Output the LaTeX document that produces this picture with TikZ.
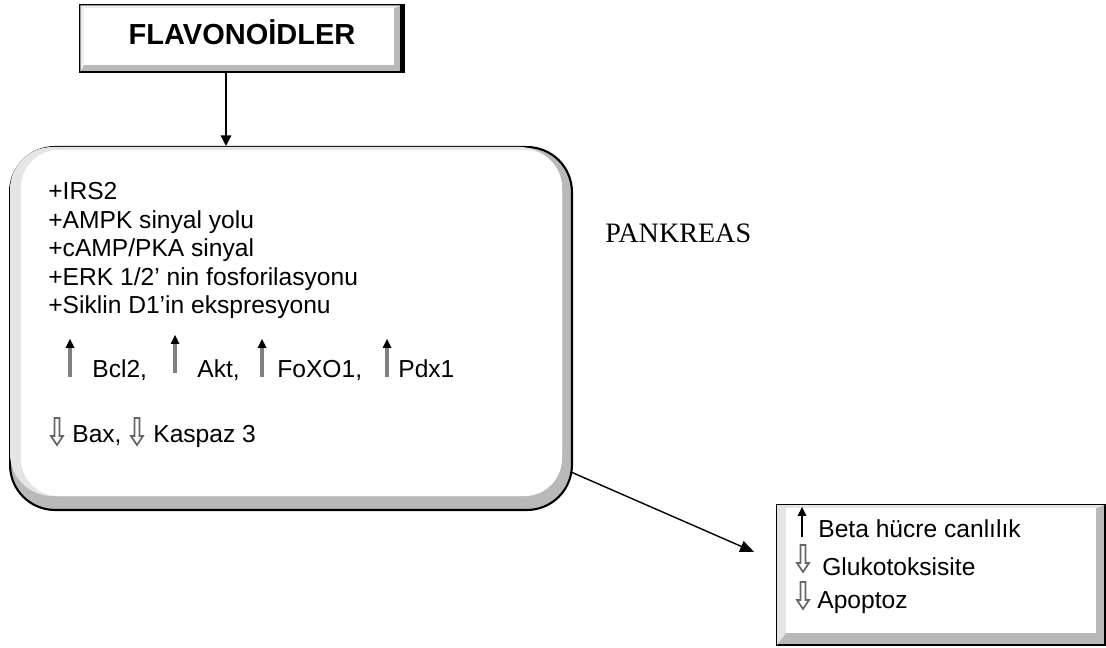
\documentclass[tikz,border=0pt]{standalone}
\usepackage{fontspec}
\setmainfont{Liberation Serif}
\setsansfont{Liberation Sans}
\usetikzlibrary{arrows.meta}
\usetikzlibrary{positioning}
\tikzset{txt/.style = {anchor=base west, inner sep=0pt,
                       font=\sffamily\fontsize{14}{16}\selectfont},
         conn/.style = {line width=0.8pt,
                        -{Triangle[length=6pt,width=6pt]}},
         grayshaft/.style = {draw=black!50, line width=1.8pt},
         blackshaft/.style = {draw=black, line width=0.8pt},
         pics/uparr/.style args = {#1/#2}{code = {
             \draw[#1] (0,0) -- (0,-#2+8);
             \fill (-4.5,-#2+9) -- (4.5,-#2+9) -- (0,-#2) -- cycle;}},
         pics/downarr/.style = {code = {
             \filldraw[draw=black!60, fill=white, line width=1pt]
               (-2.5,0) -- (2.5,0) -- (2.5,18) -- (6,18) -- (0,27)
               -- (-6,18) -- (-2.5,18) -- cycle;}}}

\begin{document}
\begin{tikzpicture}[x=0.02cm, y=-0.02cm]
    \useasboundingbox (0,0) rectangle (1106,648);

    % top box
    \node[draw, line width=0.8pt, fill=gray!55, inner sep=0pt,
          minimum width=6.44cm, minimum height=1.34cm] (flav) at (241,38.5) {};
    \fill[gray!15] ([shift={(1,1)}]flav.north west) -- ([shift={(-1,1)}]flav.north east)
        -- ([shift={(-9,4)}]flav.north east) -- ([shift={(5,4)}]flav.north west)
        -- ([shift={(5,-8)}]flav.south west) -- ([shift={(1,-1)}]flav.south west) -- cycle;
    \fill[white] ([shift={(5,4)}]flav.north west) rectangle ([shift={(-9,-8)}]flav.south east);
    \draw[line width=2.5pt] (flav.north east) -- (flav.south east);
    \node[anchor=base, inner sep=0pt, font=\sffamily\bfseries\fontsize{16.5}{18}\selectfont]
        (flavtxt) at (242,45) {FLAVONOİDLER};

    % pancreas box
    \node[draw, line width=1.2pt, rounded corners=0.9cm, fill=gray!55, inner sep=0pt,
          minimum width=11.24cm, minimum height=7.26cm] (pank) at (291,328.5) {};
    \fill[gray!20, rounded corners=0.85cm] ([shift={(1,1)}]pank.north west)
        rectangle ([shift={(-11,-15)}]pank.south east);
    \fill[white, rounded corners=0.75cm] ([shift={(12,4)}]pank.north west)
        rectangle ([shift={(-11,-15)}]pank.south east);

    \node[txt] (irs) at (48,200) {+IRS2};
    \node[txt] (ampk) at (48,229) {+AMPK sinyal yolu};
    \node[txt] (camp) at (48,257) {+cAMP/PKA sinyal};
    \node[txt] (erk) at (48,286) {+ERK 1/2’ nin fosforilasyonu};
    \node[txt] (siklin) at (48,314) {+Siklin D1’in ekspresyonu};

    \pic at (70,377) {uparr=grayshaft/38};
    \node[txt] (bcl) at (92,378) {Bcl2,};
    \pic at (175,373) {uparr=grayshaft/38};
    \node[txt] (akt) at (197,378) {Akt,};
    \pic at (262,377) {uparr=grayshaft/38};
    \node[txt] (foxo) at (277,378) {FoXO1,};
    \pic at (387,377) {uparr=grayshaft/38};
    \node[txt] (pdx) at (398,378) {Pdx1};

    \pic at (57,418) {downarr};
    \node[txt] (bax) at (72,443) {Bax,};
    \pic at (137,418) {downarr};
    \node[txt] (kaspaz) at (153,443) {Kaspaz 3};

    \node[anchor=base west, inner sep=0pt, font=\rmfamily\fontsize{16}{18}\selectfont]
        (pankr) at (605,243) {PANKREAS};

    % result box
    \node[draw, line width=1pt, fill=gray!55, inner sep=0pt,
          minimum width=6.56cm, minimum height=2.8cm] (sonuc) at (941,575) {};
    \fill[gray!20] ([shift={(1,1)}]sonuc.north west) -- ([shift={(-1,1)}]sonuc.north east)
        -- ([shift={(-10,4)}]sonuc.north east) -- ([shift={(10,4)}]sonuc.north west)
        -- ([shift={(10,-13)}]sonuc.south west) -- ([shift={(1,-1)}]sonuc.south west) -- cycle;
    \fill[white] ([shift={(10,4)}]sonuc.north west) rectangle ([shift={(-10,-13)}]sonuc.south east);

    \pic at (802,537) {uparr=blackshaft/30};
    \node[txt] (beta) at (818,538) {Beta hücre canlılık};
    \pic at (803,545) {downarr};
    \node[txt] (gluko) at (822,575) {Glukotoksisite};
    \pic at (803,582) {downarr};
    \node[txt] (apop) at (817,608) {Apoptoz};

    % connectors
    \coordinate (arrx) at (226,0);
    \draw[conn] (flav.south -| arrx) -- (pank.north -| arrx);
    \coordinate (c1) at ([shift={(-2,143.5)}]pank.east);
    \coordinate (tip) at ([shift={(-22,-23)}]sonuc.west);
    \draw[line width=0.8pt, -{Triangle[length=8pt,width=6.5pt]}] (c1) -- (tip);
\end{tikzpicture}
\end{document}
